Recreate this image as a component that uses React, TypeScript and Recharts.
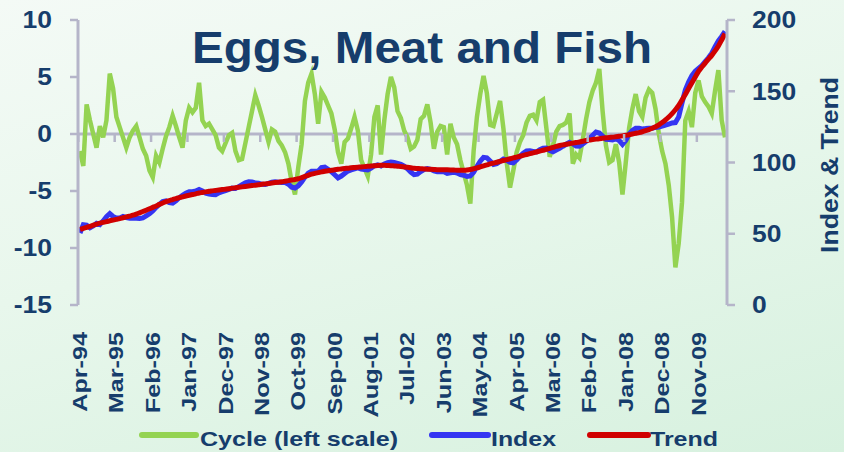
import React from "react"
import { LineChart, Line, XAxis, YAxis, Legend, ReferenceLine } from "recharts"

// cycle (left scale), monthly from Apr-94
const CYCLE = [
  -1.5, -2.8, 2.6, 1.2, 0.0, -1.2, 0.7, -0.3, 1.2, 5.3,
  4.0, 1.5, 0.6, -0.3, -1.2, -0.3, 0.3, 0.7, -0.3, -1.3,
  -1.9, -3.2, -3.8, -1.9, -2.5, -1.3, -0.2, 0.6, 1.6, 0.7,
  -0.3, -1.2, 1.2, 2.3, 1.9, 2.3, 4.5, 1.2, 0.7, 0.9,
  0.4, -0.1, -1.2, -1.5, -0.8, -0.1, 0.1, -1.5, -2.3, -2.2,
  -0.8, 0.6, 2.0, 3.4, 2.5, 1.5, 0.4, -0.7, 0.4, 0.2,
  -0.6, -1.0, -1.6, -2.6, -4.2, -5.3, -2.9, -0.9, 2.9, 4.5,
  5.3, 3.5, 0.9, 3.7, 3.2, 2.5, 1.8, 0.4, -1.6, -2.6,
  -0.7, -0.4, 0.5, 1.5, 0.3, -2.3, -3.0, -3.7, -1.8, 1.5,
  2.5, -1.8, 1.2, 3.5, 5.0, 4.1, 2.0, 1.4, 0.3, -0.3,
  -1.3, -1.1, -0.5, 1.3, 1.6, 2.6, 1.0, -1.3, 0.2, 0.7,
  0.6, -1.8, 0.9, -0.3, -0.9, -2.3, -3.4, -4.5, -6.1, -1.5,
  1.5, 3.5, 5.1, 3.6, 0.8, 0.7, 1.8, 2.9, 0.5, -2.5,
  -4.7, -3.2, -1.6, -0.7, -0.1, 1.0, 1.6, 1.7, 1.2, 2.8,
  3.0, 0.5, -2.0, -1.0, 0.2, 0.7, 0.8, 1.0, 1.8, -2.6,
  -1.8, -2.1, -0.5, 1.3, 2.8, 3.8, 4.5, 5.7, 2.0, -1.0,
  -2.5, -2.3, -0.9, -2.5, -5.3, -2.5, 0.5, 2.2, 3.5, 2.0,
  1.5, 3.2, 3.9, 3.6, 2.2, 0.0, -1.5, -2.6, -4.5, -7.3,
  -11.7, -9.6, -6.0, 1.2, 2.0, 0.6, 3.6, 4.7, 3.3, 2.8,
  2.4, 1.8, 3.8, 5.6, 1.2, -0.3,
]

// index (right scale)
const INDEX = [
  50.5, 56.3, 56.0, 54.2, 55.5, 57.3, 56.5, 59.0, 62.0, 64.1,
  62.1, 61.1, 61.1, 62.2, 61.3, 60.9, 61.0, 60.8, 60.7, 61.1,
  62.5, 64.0, 66.0, 68.5, 70.6, 72.6, 73.0, 71.8, 71.5, 73.2,
  75.3, 76.9, 78.5, 79.5, 79.5, 80.0, 81.1, 80.0, 78.4, 77.8,
  77.6, 77.4, 78.7, 79.5, 80.3, 81.1, 82.0, 81.8, 83.1, 84.4,
  85.7, 86.5, 86.3, 85.6, 85.4, 84.7, 84.5, 85.3, 86.1, 86.4,
  86.2, 86.0, 85.9, 84.8, 82.7, 82.1, 83.6, 86.4, 89.7, 92.5,
  93.8, 93.9, 93.9, 96.4, 96.8, 95.2, 93.6, 91.4, 89.2, 90.5,
  92.3, 94.0, 94.8, 95.5, 96.2, 95.4, 95.1, 94.8, 96.0, 97.7,
  98.4, 97.5, 99.0, 99.9, 100.3, 100.1, 99.4, 98.7, 97.4, 95.6,
  93.3, 91.5, 91.8, 93.6, 95.0, 95.8, 95.2, 94.1, 93.5, 93.5,
  93.5, 92.4, 92.8, 93.2, 92.6, 91.5, 91.1, 90.3, 90.6, 93.1,
  97.2, 100.9, 103.6, 103.3, 101.0, 98.6, 99.2, 100.8, 102.4, 101.5,
  100.1, 99.7, 101.8, 104.4, 106.5, 108.1, 108.2, 107.8, 107.4, 109.0,
  110.1, 110.2, 108.4, 107.6, 108.8, 109.9, 111.4, 112.8, 114.2, 113.1,
  111.5, 111.4, 112.9, 114.9, 116.8, 119.1, 121.4, 120.7, 118.5, 116.3,
  116.1, 115.8, 116.6, 115.4, 112.7, 115.6, 120.0, 122.5, 124.0, 124.0,
  123.6, 123.8, 124.1, 124.0, 124.6, 124.9, 125.5, 126.3, 126.9, 127.8,
  128.0, 132.0, 141.8, 150.8, 156.4, 161.0, 164.0, 166.0, 168.0, 170.8,
  173.5, 176.7, 181.3, 185.3, 188.5, 192.0,
]

// trend (right scale)
const TREND = [
  53.0, 53.8, 54.5, 55.2, 56.0, 56.8, 57.5, 58.0, 58.5, 59.1,
  59.6, 60.1, 60.6, 61.2, 61.8, 62.4, 63.0, 63.8, 64.7, 65.6,
  66.5, 67.5, 68.5, 69.5, 70.6, 71.6, 72.5, 73.3, 74.0, 74.7,
  75.3, 75.9, 76.5, 77.0, 77.5, 78.0, 78.6, 79.0, 79.4, 79.8,
  80.1, 80.4, 80.7, 81.0, 81.3, 81.6, 82.0, 82.3, 82.6, 82.9,
  83.2, 83.5, 83.8, 84.1, 84.4, 84.7, 85.0, 85.3, 85.6, 85.9,
  86.2, 86.5, 86.9, 87.3, 87.7, 88.1, 88.6, 89.4, 90.2, 91.0,
  91.8, 92.4, 92.9, 93.4, 93.8, 94.2, 94.6, 94.9, 95.2, 95.5,
  95.8, 96.0, 96.3, 96.5, 96.7, 96.9, 97.1, 97.3, 97.5, 97.7,
  97.9, 98.0, 98.0, 97.9, 97.8, 97.6, 97.4, 97.2, 96.9, 96.6,
  96.3, 96.0, 95.8, 95.6, 95.5, 95.3, 95.2, 95.1, 95.0, 95.0,
  95.0, 94.9, 94.8, 94.7, 94.6, 94.5, 94.6, 94.8, 95.1, 95.6,
  96.2, 96.9, 97.6, 98.3, 99.0, 99.6, 100.2, 100.8, 101.4, 102.0,
  102.6, 103.2, 103.8, 104.4, 105.0, 105.6, 106.2, 106.8, 107.4, 108.0,
  108.6, 109.2, 109.9, 110.6, 111.3, 111.9, 112.4, 112.8, 113.2, 113.6,
  114.0, 114.4, 114.9, 115.4, 115.8, 116.1, 116.4, 116.7, 117.0, 117.3,
  117.6, 117.8, 118.1, 118.4, 118.7, 119.1, 119.5, 120.0, 120.5, 121.0,
  121.6, 122.3, 123.1, 124.0, 125.1, 126.4, 128.0, 129.8, 131.9, 134.3,
  137.0, 140.0, 143.8, 147.8, 151.9, 156.0, 160.0, 164.0, 167.0, 169.8,
  172.5, 175.2, 178.3, 181.8, 186.0, 190.5,
]

const MONTH_NAMES = ["Jan", "Feb", "Mar", "Apr", "May", "Jun", "Jul", "Aug", "Sep", "Oct", "Nov", "Dec"]
const START_YEAR = 1994
const START_MONTH = 3 // April

const MONTHS = CYCLE.map((_, i) => {
  const m = START_MONTH + i
  const yy = (START_YEAR + Math.floor(m / 12)) % 100
  return `${MONTH_NAMES[m % 12]}-${String(yy).padStart(2, "0")}`
})

const TICK_LABELS = [
  "Apr-94", "Mar-95", "Feb-96", "Jan-97", "Dec-97", "Nov-98", "Oct-99", "Sep-00", "Aug-01",
  "Jul-02", "Jun-03", "May-04", "Apr-05", "Mar-06", "Feb-07", "Jan-08", "Dec-08", "Nov-09",
]
const LEFT_TICKS = [-15, -10, -5, 0, 5, 10]
const RIGHT_TICKS = [0, 50, 100, 150, 200]

const data = MONTHS.map((month, i) => ({
  month,
  cycle: CYCLE[i],
  index: INDEX[i],
  trend: TREND[i],
}))

const FONT = '"Liberation Sans", Arial, sans-serif'
const NAVY = "#163d6c"
const AXIS = "#b5b5c9"
const GREEN = "#94d352"
const BLUE = "#3535f2"
const RED = "#d00000"
const ZERO_Y = 134

function XTick({ x, payload }: any) {
  return (
    <g>
      <line x1={x - 1.7} x2={x - 1.7} y1={ZERO_Y} y2={ZERO_Y + 8} stroke={AXIS} strokeWidth={2.5} />
      <g transform={`translate(${x + 7},332) rotate(-90)`}>
        <text
          textAnchor="end"
          transform="scale(1.2,1)"
          fontSize={21}
          fontWeight="bold"
          fontFamily={FONT}
          fill={NAVY}
        >
          {payload.value}
        </text>
      </g>
    </g>
  )
}

function LeftTick({ x, y, payload }: any) {
  return (
    <g transform={`translate(${x},${y})`}>
      <text textAnchor="end" dy="0.36em" transform="scale(1.15,1)" fontSize={23} fontWeight="bold" fontFamily={FONT} fill={NAVY}>
        {payload.value}
      </text>
    </g>
  )
}

function RightTick({ x, y, payload }: any) {
  return (
    <g transform={`translate(${x},${y})`}>
      <text textAnchor="start" dy="0.36em" transform="scale(1.15,1)" fontSize={23} fontWeight="bold" fontFamily={FONT} fill={NAVY}>
        {payload.value}
      </text>
    </g>
  )
}

function RightTitle({ viewBox }: any) {
  const vx = viewBox?.x ?? 727
  const vw = viewBox?.width ?? 117
  const cy = 165
  const bx = vx + vw - 6
  return (
    <text
      x={bx}
      y={cy}
      transform={`rotate(-90, ${bx}, ${cy})`}
      textAnchor="middle"
      fontSize={24}
      fontWeight="bold"
      fontFamily={FONT}
      fill={NAVY}
      textLength={176}
      lengthAdjust="spacingAndGlyphs"
    >
      Index &amp; Trend
    </text>
  )
}

const LEGEND_POS = [
  { x1: 142, x2: 196, tx: 200, len: 198 },
  { x1: 432, x2: 488, tx: 491, len: 65 },
  { x1: 590, x2: 648, tx: 650, len: 68 },
]

function LegendContent({ payload }: any) {
  return (
    <svg width={844} height={40} style={{ display: "block" }}>
      {(payload || []).map((entry: any, i: number) => {
        const p = LEGEND_POS[i]
        if (!p) return null
        return (
          <g key={entry.value}>
            <line x1={p.x1} x2={p.x2} y1={23} y2={23} stroke={entry.color} strokeWidth={6} strokeLinecap="round" />
            <text
              x={p.tx}
              y={34}
              fontSize={21}
              fontWeight="bold"
              fontFamily={FONT}
              fill={NAVY}
              textLength={p.len}
              lengthAdjust="spacingAndGlyphs"
            >
              {entry.value}
            </text>
          </g>
        )
      })}
    </svg>
  )
}

export default function App() {
  return (
    <div
      style={{
        position: "fixed",
        left: 0,
        top: 0,
        width: 844,
        height: 452,
        background: "linear-gradient(165deg, #f4faf6 0%, #e8f7ec 45%, #d7f1df 100%)",
      }}
    >
      <LineChart width={844} height={452} data={data} margin={{ top: 20, right: 0, bottom: 0, left: 0 }}>
        <XAxis
          dataKey="month"
          ticks={TICK_LABELS}
          interval={0}
          tick={<XTick />}
          tickLine={false}
          axisLine={false}
          height={107}
          padding={{ left: 2, right: 2 }}
        />
        <YAxis
          yAxisId="left"
          orientation="left"
          domain={[-15, 10]}
          ticks={LEFT_TICKS}
          width={78}
          tickSize={8}
          tickMargin={18}
          tick={<LeftTick />}
          axisLine={{ stroke: AXIS, strokeWidth: 3 }}
          tickLine={{ stroke: AXIS, strokeWidth: 2.5 }}
        />
        <YAxis
          yAxisId="right"
          orientation="right"
          domain={[0, 200]}
          ticks={RIGHT_TICKS}
          width={117}
          tickSize={8}
          tickMargin={17}
          tick={<RightTick />}
          axisLine={{ stroke: AXIS, strokeWidth: 3 }}
          tickLine={{ stroke: AXIS, strokeWidth: 2.5 }}
          label={<RightTitle />}
        />
        <ReferenceLine yAxisId="left" y={0} stroke={AXIS} strokeWidth={3} />
        <Legend verticalAlign="bottom" content={<LegendContent />} />
        <Line
          yAxisId="left"
          dataKey="cycle"
          name="Cycle (left scale)"
          stroke={GREEN}
          strokeWidth={4.5}
          dot={false}
          isAnimationActive={false}
        />
        <Line
          yAxisId="right"
          dataKey="index"
          name="Index"
          stroke={BLUE}
          strokeWidth={5}
          dot={false}
          isAnimationActive={false}
        />
        <Line
          yAxisId="right"
          dataKey="trend"
          name="Trend"
          type="monotone"
          stroke={RED}
          strokeWidth={5}
          dot={false}
          isAnimationActive={false}
        />
      </LineChart>
      <svg width={844} height={452} style={{ position: "absolute", left: 0, top: 0, pointerEvents: "none" }}>
        <text
          x={192}
          y={63}
          fontSize={44}
          fontWeight="bold"
          fontFamily={FONT}
          fill={NAVY}
          textLength={460}
          lengthAdjust="spacingAndGlyphs"
        >
          Eggs, Meat and Fish
        </text>
      </svg>
    </div>
  )
}
